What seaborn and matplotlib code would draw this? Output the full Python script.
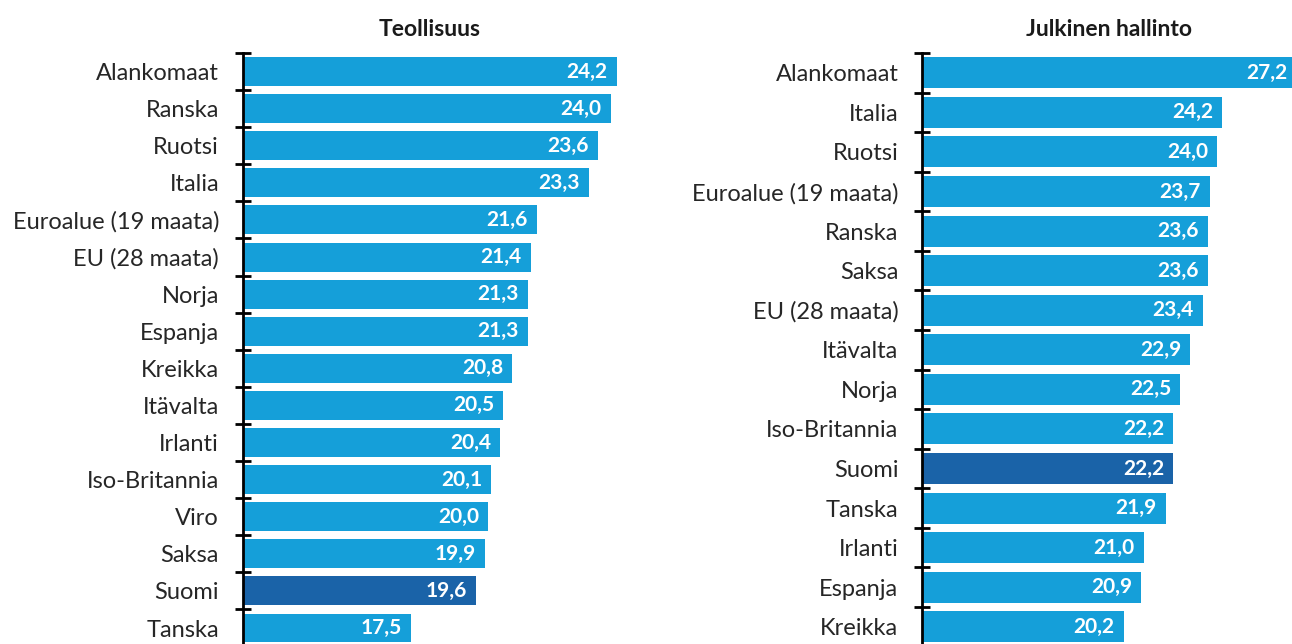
import pandas as pd
import seaborn as sns
import matplotlib.pyplot as plt
from matplotlib.ticker import FixedLocator

# Teollisuus
ind_countries = ['Alankomaat', 'Ranska', 'Ruotsi', 'Italia', 'Euroalue (19 maata)', 'EU (28 maata)',
                 'Norja', 'Espanja', 'Kreikka', 'Itävalta', 'Irlanti', 'Iso-Britannia', 'Viro',
                 'Saksa', 'Suomi', 'Tanska']
ind_values = [24.2, 24.0, 23.6, 23.3, 21.6, 21.4, 21.3, 21.3, 20.8, 20.5, 20.4, 20.1, 20.0, 19.9, 19.6, 17.5]

# Julkinen hallinto
pub_countries = ['Alankomaat', 'Italia', 'Ruotsi', 'Euroalue (19 maata)', 'Ranska', 'Saksa',
                 'EU (28 maata)', 'Itävalta', 'Norja', 'Iso-Britannia', 'Suomi', 'Tanska',
                 'Irlanti', 'Espanja', 'Kreikka']
pub_values = [27.2, 24.2, 24.0, 23.7, 23.6, 23.6, 23.4, 22.9, 22.5, 22.2, 22.2, 21.9, 21.0, 20.9, 20.2]

LIGHT = '#159fd9'
DARK = '#1a63a8'

sns.set_style('white')
plt.rcParams['font.family'] = ['Lato', 'DejaVu Sans']

fig = plt.figure(figsize=(12.92, 6.44), dpi=100)
ax1 = fig.add_axes([0.1878, -0.004, 0.2895, 0.9217])
ax2 = fig.add_axes([0.7137, -0.004, 0.2895, 0.9217])


def draw(ax, countries, values, title, xmax):
    df = pd.DataFrame({'maa': countries, 'arvo': values})
    pal = [DARK if c == 'Suomi' else LIGHT for c in countries]
    sns.barplot(data=df, y='maa', x='arvo', hue='maa', palette=pal, orient='h',
                width=0.78, legend=False, ax=ax, edgecolor='none', saturation=1)
    n = len(countries)
    ax.set_xlim(12, xmax)
    ax.set_ylim(n - 0.5, -0.5)
    for i, v in enumerate(values):
        ax.annotate(f'{v:.1f}'.replace('.', ','), (v, i), xytext=(-6.5, 0),
                    textcoords='offset points', ha='right', va='center',
                    color='white', fontsize=15, fontweight='bold')
    for s in ['top', 'right', 'bottom']:
        ax.spines[s].set_visible(False)
    ax.spines['left'].set_linewidth(2)
    ax.spines['left'].set_color('black')
    ax.set_xticks([])
    ax.set_xlabel('')
    ax.set_ylabel('')
    ax.tick_params(axis='y', which='major', length=0, labelsize=17, pad=17,
                   labelcolor='#262626')
    ax.yaxis.set_minor_locator(FixedLocator([i - 0.5 for i in range(n + 1)]))
    ax.tick_params(axis='y', which='minor', direction='inout', length=12, width=2,
                   color='black', left=True)
    ax.set_title(title, fontsize=16.5, fontweight='bold', pad=12, color='#1a1a1a')


draw(ax1, ind_countries, ind_values, 'Teollisuus', 24.2)
draw(ax2, pub_countries, pub_values, 'Julkinen hallinto', 27.2)

fig.savefig('out.png', dpi=100)
